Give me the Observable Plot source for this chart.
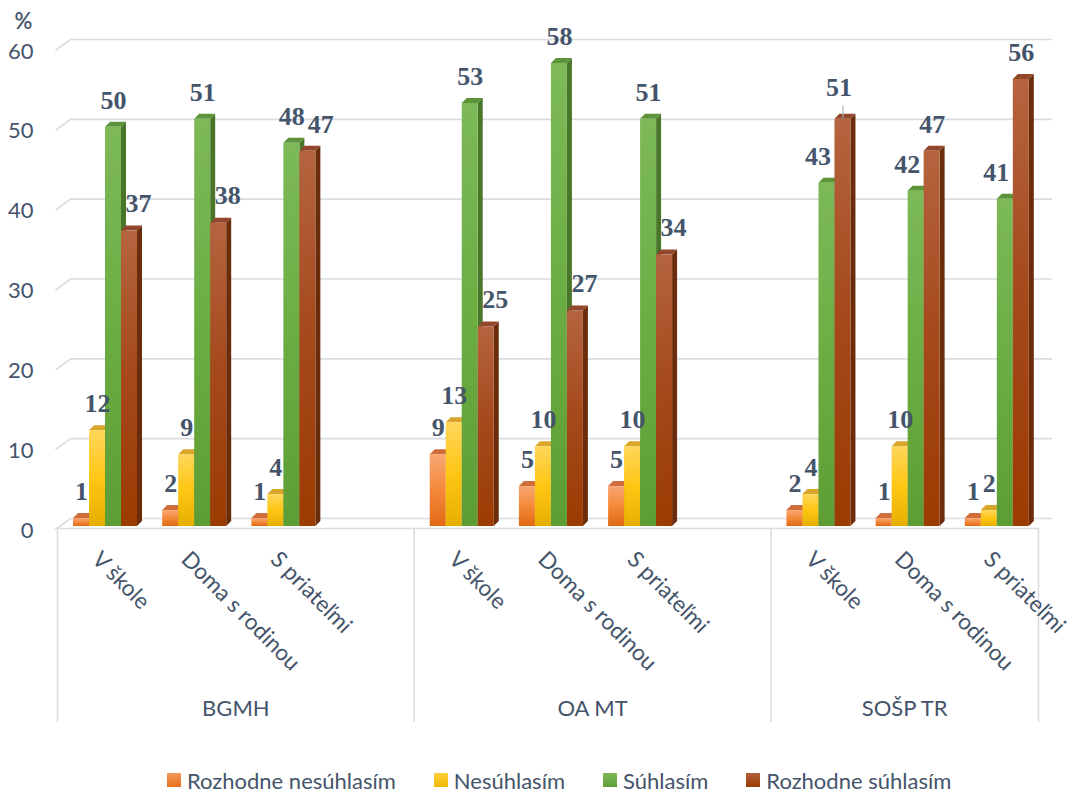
<!DOCTYPE html>
<html>
<head>
<meta charset="utf-8">
<script src="https://cdn.jsdelivr.net/npm/d3@7"></script>
<script src="https://cdn.jsdelivr.net/npm/@observablehq/plot@0.6"></script>
<style>
  body { margin: 0; background: #fff; }
  #chart { width: 1077px; }
  #chart svg { display: block; }
  .legend { display: flex; align-items: center; height: 50px; padding-left: 167px;
            font-family: Lato, "Open Sans", sans-serif; font-size: 22px; color: #44546A; }
  .legend .item { display: flex; align-items: center; margin-right: 38px; }
  .legend .sw { width: 14px; height: 14px; margin-right: 6px; }
</style>
</head>
<body>
<div id="chart"></div>
<script>
// Survey answers (%) by school and setting
const schools = ["BGMH", "OA MT", "SOŠP TR"];
const places = ["V škole", "Doma s rodinou", "S priateľmi"];
const seriesNames = ["Rozhodne nesúhlasím", "Nesúhlasím", "Súhlasím", "Rozhodne súhlasím"];

// one value per (school, place), school-major order
const rozhodneNesuhlasim = [1, 2, 1, 9, 5, 5, 2, 1, 1];
const nesuhlasim = [12, 9, 4, 13, 10, 10, 4, 10, 2];
const suhlasim = [50, 51, 48, 53, 58, 51, 43, 42, 41];
const rozhodneSuhlasim = [37, 38, 47, 25, 27, 34, 51, 47, 56];

const yTicks = [0, 10, 20, 30, 40, 50, 60];

// label drawn with a leader line
const leaders = [{school: "SOŠP TR", place: "V škole", series: "Rozhodne súhlasím"}];

const seriesValues = [rozhodneNesuhlasim, nesuhlasim, suhlasim, rozhodneSuhlasim];

// face colours of the extruded bars
const faces = [
  {front: ["#F8A672", "#F5893B", "#E06914"], top: "#CF6E3C", side: "#B2541E", swatch: ["#F59A5C", "#E4701C"]},
  {front: ["#FFD65A", "#FFC614", "#E6AF00"], top: "#D9A52C", side: "#BF8F00", swatch: ["#FFD040", "#F0B800"]},
  {front: ["#7DB958", "#6CAD43", "#5E9D35"], top: "#5C9339", side: "#4A7629", swatch: ["#7DB958", "#5E9D35"]},
  {front: ["#B4643F", "#A5481B", "#9B3C02"], top: "#93462A", side: "#6A2C0A", swatch: ["#B0603C", "#9B3C02"]}
];

// geometry
const W = 1077, H = 755;
const frameLeft = 57, frameRight = 1038, frameTop = 47, frameBottom = 526;

// category slots: an empty slot separates consecutive schools
const slots = [], groups = [];
let s = 0;
schools.forEach((school, g) => {
  const start = s;
  places.forEach((place, p) => { slots.push({school, place, slot: s, idx: g * places.length + p}); s++; });
  if (g < schools.length - 1) s++;
  groups.push({school, start, end: s});
});
const nSlots = s;
const boundaries = [0, ...groups.map(g => g.end)];

const pxX = (frameRight - frameLeft) / nSlots, pxY = (frameBottom - frameTop) / 60;
const ux = px => px / pxX, uy = px => px / pxY;

const barW = ux(16), barPad = ux(16), depthX = ux(5), depthY = uy(5);

const bars = [];
slots.forEach(c => seriesValues.forEach((vals, k) => {
  const x1 = c.slot + barPad + k * barW;
  const lead = leaders.some(l => l.school === c.school && l.place === c.place && l.series === seriesNames[k]);
  bars.push({...c, k, series: seriesNames[k], value: vals[c.idx], x1, x2: x1 + barW, cx: x1 + barW / 2, lead, shift: 0});
}));

// the shorter of the two tall bars has its label nudged away from its neighbour
slots.forEach(c => {
  const g = bars.find(b => b.slot === c.slot && b.k === 2);
  const r = bars.find(b => b.slot === c.slot && b.k === 3);
  const push = Math.abs(g.value - r.value) <= 3 ? 13 : 9;
  if (r.value < g.value) r.shift = push;
  else g.shift = -push;
  if (r.lead) r.shift = -4;
});

// side and top faces as parallelograms
const sidePts = [], topPts = [];
bars.forEach((b, i) => {
  sidePts.push({id: i, k: b.k, x: b.x2, y1: 0, y2: b.value});
  sidePts.push({id: i, k: b.k, x: b.x2 + depthX, y1: depthY, y2: b.value + depthY});
  const v = b.value;
  topPts.push({id: i, k: b.k, x: b.x1, y1: v, y2: v});
  topPts.push({id: i, k: b.k, x: b.x1 + depthX, y1: v, y2: v + depthY});
  topPts.push({id: i, k: b.k, x: b.x2, y1: v, y2: v + depthY});
  topPts.push({id: i, k: b.k, x: b.x2 + depthX, y1: v + depthY, y2: v + depthY});
});

const grid = "#D9DCE1";
const ink = "#44546A";

const marks = [
  // back wall grid with the short side-wall stub
  Plot.ruleY(yTicks, {y: d => d + uy(8), x1: ux(13), x2: nSlots + ux(14), stroke: grid, strokeWidth: 1.6}),
  Plot.link(yTicks, {x1: -ux(2), y1: d => d - uy(3), x2: ux(13), y2: d => d + uy(8), stroke: grid, strokeWidth: 1.6}),
  // category axis and group separators
  Plot.ruleY([0], {y: -uy(2), x1: -ux(2), x2: nSlots, stroke: grid, strokeWidth: 1.6}),
  Plot.ruleX(boundaries, {x: d => d, y1: -uy(2), y2: -uy(722 - frameBottom), stroke: grid, strokeWidth: 1.6})
];

seriesNames.forEach((name, k) => {
  marks.push(Plot.areaY(sidePts.filter(d => d.k === k), {x: "x", y1: "y1", y2: "y2", z: "id", fill: faces[k].side, curve: "linear"}));
});
seriesNames.forEach((name, k) => {
  marks.push(Plot.areaY(topPts.filter(d => d.k === k), {x: "x", y1: "y1", y2: "y2", z: "id", fill: faces[k].top, curve: "linear"}));
});
seriesNames.forEach((name, k) => {
  marks.push(Plot.rectY(bars.filter(d => d.k === k), {x1: "x1", x2: "x2", y1: 0, y2: "value", fill: `url(#front${k})`}));
});

marks.push(
  // leader line
  Plot.ruleX(bars.filter(d => d.lead), {x: "cx", y1: d => d.value + uy(1), y2: d => d.value + uy(13), stroke: "#A6B0BE", strokeWidth: 1.2}),
  // value labels
  Plot.text(bars, {
    x: d => d.cx + ux(d.shift), y: d => d.value + (d.lead ? uy(5) : 0),
    text: d => String(d.value), dy: -27, fill: ink,
    fontFamily: "'Liberation Serif', 'Times New Roman', serif", fontWeight: "bold", fontSize: 26
  }),
  // y tick labels and unit
  Plot.text(yTicks, {x: 0, y: d => d, text: d => String(d), dx: -24, dy: 4, textAnchor: "end", fill: ink, fontSize: 22}),
  Plot.text(["%"], {x: 0, y: 60, text: d => d, dx: -34, dy: -26, fill: ink, fontSize: 22, fontWeight: 600}),
  // setting labels, rotated
  Plot.text(slots, {x: d => d.slot + 0.5, y: 0, text: "place", rotate: 45, textAnchor: "start", lineAnchor: "top",
    dx: 0, dy: 23, fill: ink, fontSize: 22.5}),
  // school labels
  Plot.text(groups, {x: d => (d.start + d.end) / 2, y: -uy(708 - frameBottom), text: "school", fill: ink, fontSize: 22})
);

const plot = Plot.plot({
  width: W, height: H,
  x: {domain: [0, nSlots], range: [frameLeft, frameRight], axis: null},
  y: {domain: [0, 60], range: [frameBottom, frameTop], axis: null},
  style: {fontFamily: "Lato, 'Open Sans', sans-serif", color: ink, background: "#fff"},
  marks
});

const defs = d3.select(plot).insert("defs", ":first-child");
faces.forEach((f, k) => {
  const g = defs.append("linearGradient").attr("id", `front${k}`)
    .attr("x1", 0).attr("y1", 0).attr("x2", 0).attr("y2", 1);
  f.front.forEach((c, i) => g.append("stop").attr("offset", i / (f.front.length - 1)).attr("stop-color", c));
});

document.getElementById("chart").appendChild(plot);

// legend
const legend = d3.select("#chart").append("div").attr("class", "legend");
seriesNames.forEach((name, k) => {
  const item = legend.append("div").attr("class", "item");
  item.append("div").attr("class", "sw")
    .style("background", `linear-gradient(${faces[k].swatch[0]}, ${faces[k].swatch[1]})`);
  item.append("span").text(name);
});
</script>
</body>
</html>
